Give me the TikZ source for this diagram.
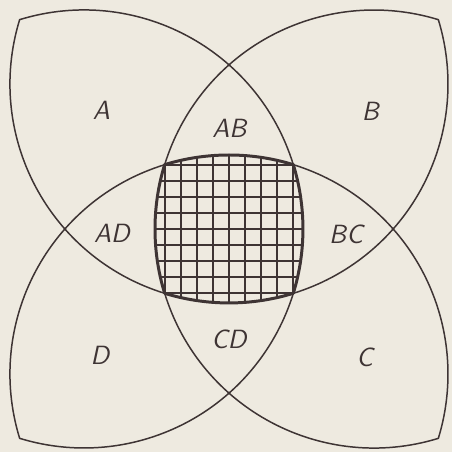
\documentclass[tikz,border=0pt]{standalone}
\definecolor{paper}{RGB}{238,234,224}
\definecolor{ink}{RGB}{62,52,52}
\begin{document}
\begin{tikzpicture}[font=\sffamily\itshape\fontsize{15}{17}\selectfont, line join=round, line cap=round, ink]
		\path[use as bounding box, fill=paper] (-4.58,-4.46) rectangle (4.46,4.58);
		% cross-hatched part common to all four
		\begin{scope}
			\clip (-1.287,1.287) arc[start angle=107.08, end angle=72.92, radius=4.38]
				arc[start angle=17.08, end angle=-17.08, radius=4.38]
				arc[start angle=-72.92, end angle=-107.08, radius=4.38]
				arc[start angle=197.08, end angle=162.92, radius=4.38] -- cycle;
			\draw[line width=1.1pt, step=0.32] (-1.6,-1.6) grid (1.6,1.6);
		\end{scope}
		\draw[line width=1.7pt] (-1.287,1.287) arc[start angle=107.08, end angle=72.92, radius=4.38]
			arc[start angle=17.08, end angle=-17.08, radius=4.38]
			arc[start angle=-72.92, end angle=-107.08, radius=4.38]
			arc[start angle=197.08, end angle=162.92, radius=4.38] -- cycle;
		% the four arcs
		\draw[line width=0.85pt] (-4.187,4.187) arc[start angle=107.08, end angle=-107.08, radius=4.38];
		\draw[line width=0.85pt] (-4.187,4.187) arc[start angle=162.92, end angle=377.08, radius=4.38];
		\draw[line width=0.85pt] (4.187,-4.187) arc[start angle=287.08, end angle=72.92, radius=4.38];
		\draw[line width=0.85pt] (-4.187,-4.187) arc[start angle=197.08, end angle=-17.08, radius=4.38];
		\node (A) at (-2.55,2.37) {A};
		\node (AB) at (0.01,2.01) {AB};
		\node (B) at (2.83,2.35) {B};
		\node (AD) at (-2.34,-0.08) {AD};
		\node (BC) at (2.34,-0.10) {BC};
		\node (D) at (-2.58,-2.52) {D};
		\node (CD) at (0,-2.2) {CD};
		\node (C) at (2.71,-2.57) {C};
\end{tikzpicture}
\end{document}
